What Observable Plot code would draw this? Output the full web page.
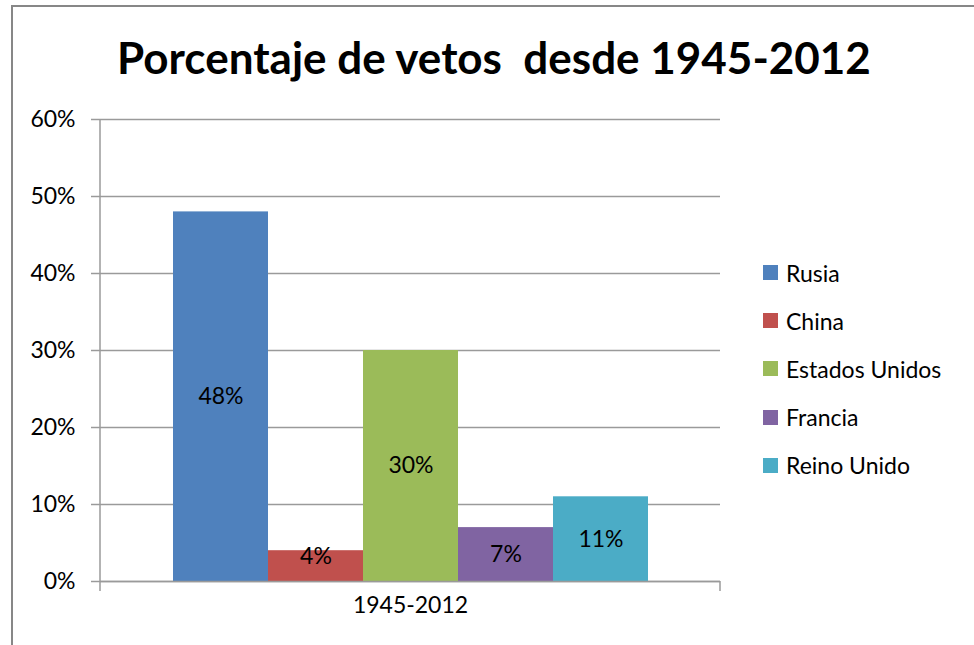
<!DOCTYPE html>
<html>
<head>
<meta charset="utf-8">
<script src="https://cdn.jsdelivr.net/npm/d3@7"></script>
<script src="https://cdn.jsdelivr.net/npm/@observablehq/plot@0.6"></script>
<style>
  body { margin: 0; background: #fff; }
  #chart { position: relative; width: 974px; height: 645px; overflow: hidden; font-family: Lato, "Open Sans", sans-serif; background: #fff; }
  #border { position: absolute; left: 11px; top: 5px; width: 1000px; height: 700px; border: 2px solid #878787; box-sizing: border-box; }
  #title { position: absolute; left: 0; width: 988px; top: 31px; text-align: center; font-weight: bold; font-size: 44px; line-height: 52px; color: #000; white-space: pre; }
  #plot { position: absolute; left: 0; top: 0; }
  .leg { position: absolute; left: 763px; height: 28px; display: flex; align-items: center; font-size: 23px; color: #000; white-space: nowrap; }
  .sw { width: 15px; height: 15px; margin-right: 8px; flex: none; }
</style>
</head>
<body>
<div id="chart">
  <div id="border"></div>
  <div id="plot"></div>
  <div id="title"></div>
  <div id="legend"></div>
</div>
<script>
const titleText = "Porcentaje de vetos  desde 1945-2012";
const period = "1945-2012";
const countries = ["Rusia", "China", "Estados Unidos", "Francia", "Reino Unido"];
const values = [48, 4, 30, 7, 11];
const colors = ["#4F81BD", "#C0504D", "#9BBB59", "#8064A2", "#4BACC6"];
const yTicks = [0, 10, 20, 30, 40, 50, 60];

const data = countries.map((c, i) => ({country: c, value: values[i]}));

document.getElementById("title").textContent = titleText;

const gray = "#9a9a9a";

const axisLines = (index, scales, values, dimensions) => {
  const {width, height, marginLeft, marginRight, marginTop, marginBottom} = dimensions;
  const y0 = height - marginBottom;
  const g = d3.create("svg:g").attr("stroke", gray).attr("stroke-width", 1.5);
  g.append("line").attr("x1", marginLeft).attr("x2", marginLeft).attr("y1", marginTop).attr("y2", y0 + 10);
  g.append("line").attr("x1", width - marginRight).attr("x2", width - marginRight).attr("y1", y0).attr("y2", y0 + 10);
  return g.node();
};

const chart = Plot.plot({
  width: 974,
  height: 645,
  marginLeft: 100,
  marginRight: 254,
  marginTop: 119,
  marginBottom: 64,
  style: {fontFamily: "Lato, 'Open Sans', sans-serif", fontSize: "23px", color: "#000", background: "transparent", overflow: "visible"},
  x: {domain: countries, paddingOuter: 0.75, paddingInner: 0, axis: null},
  y: {domain: [0, 60]},
  color: {domain: countries, range: colors},
  marks: [
    Plot.gridY(yTicks, {stroke: gray, strokeOpacity: 1, strokeWidth: 1.5}),
    Plot.barY(data, {x: "country", y: "value", fill: "country"}),
    Plot.ruleY([0], {stroke: gray, strokeWidth: 1.5}),
    Plot.axisY(yTicks, {tickFormat: d => d + "%", tickSize: 9, tickPadding: 16, stroke: gray, strokeWidth: 1.5, fontSize: 23, fill: "#000", label: null}),
    axisLines,
    Plot.text(data, {x: "country", y: d => Math.max(d.value / 2, 3.25), text: d => d.value + "%", fontSize: 23, fill: "#000"}),
    Plot.text([period], {frameAnchor: "bottom", dy: 31, text: d => d, fontSize: 23, fill: "#000"})
  ]
});
document.getElementById("plot").appendChild(chart);

const legend = document.getElementById("legend");
countries.forEach((c, i) => {
  const row = document.createElement("div");
  row.className = "leg";
  row.style.top = (258.5 + i * 48.2) + "px";
  const sw = document.createElement("div");
  sw.className = "sw";
  sw.style.background = colors[i];
  const t = document.createElement("span");
  t.textContent = c;
  row.appendChild(sw);
  row.appendChild(t);
  legend.appendChild(row);
});
</script>
</body>
</html>
